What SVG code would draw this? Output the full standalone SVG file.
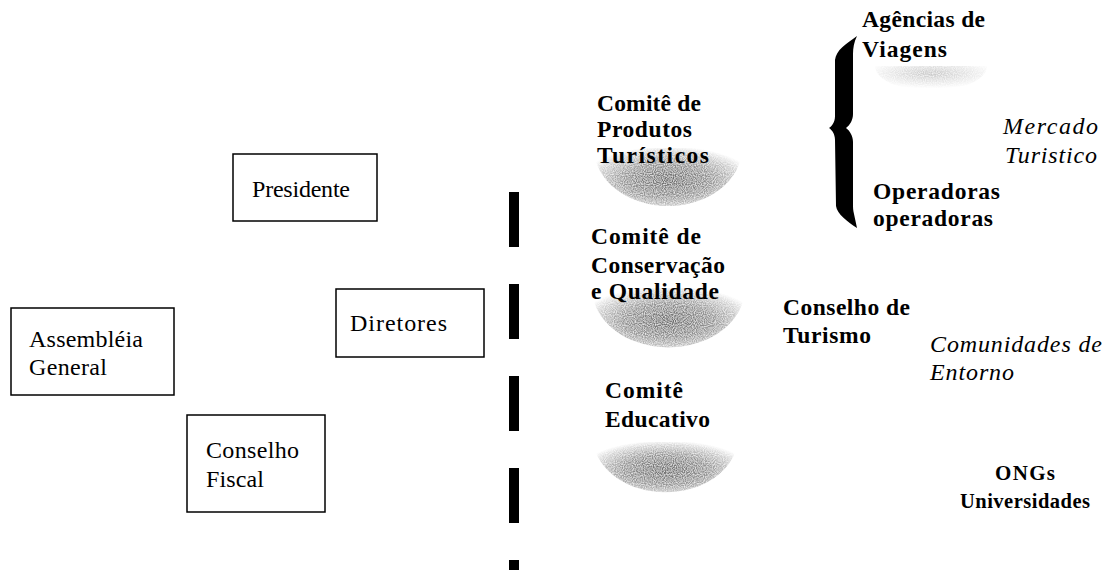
<svg xmlns="http://www.w3.org/2000/svg" width="1110" height="570" viewBox="0 0 1110 570">
<style>
.box{fill:#fff;stroke:#000;stroke-width:1.5}
.r{font-family:"Liberation Serif",serif;font-size:24px;fill:#000}
.b{font-family:"Liberation Serif",serif;font-size:23.5px;font-weight:bold;fill:#000}
.i{font-family:"Liberation Serif",serif;font-size:24px;font-style:italic;fill:#000}
.dash{stroke:#000;stroke-width:10;stroke-dasharray:55 37}
</style>
<defs>
<radialGradient id="bowl" cx="0.5" cy="0.55" r="0.58">
<stop offset="0" stop-color="#6a6a6a"/>
<stop offset="0.5" stop-color="#949494"/>
<stop offset="0.85" stop-color="#d8d8d8"/>
<stop offset="1" stop-color="#ffffff"/>
</radialGradient>
<radialGradient id="bowlFaint" cx="0.5" cy="0.3" r="0.6">
<stop offset="0" stop-color="#c8c8c8"/>
<stop offset="1" stop-color="#ffffff"/>
</radialGradient>
<filter id="grain" x="0" y="0" width="1" height="1">
<feTurbulence type="fractalNoise" baseFrequency="0.9" numOctaves="1" seed="3" result="n"/>
<feColorMatrix in="n" type="matrix" values="0 0 0 0 1  0 0 0 0 1  0 0 0 0 1  0 0 0 -1.6 1.05" result="w"/>
<feComposite in="w" in2="SourceGraphic" operator="atop"/>
</filter>
</defs>
<rect width="1110" height="570" fill="#fff"/>

<g id="connectors">
<line class="dash" x1="514" y1="192" x2="514" y2="570"/>
<path id="brace" d="M857,36 C846,44 836,50 835,60 L835,116 C835,122 832,126 829,128 C832,130 835,134 835,140 L836,206 C837,214 848,222 857,228 L854,214 C853,210 853,208 853,204 L853,142 C853,136 850,131 846,128 C850,125 853,120 853,114 L853,54 C853,48 854,42 857,36 Z" fill="#000"/>
</g>

<g id="presidente">
<rect class="box" x="233" y="154" width="144" height="67"/>
<text class="r" x="252" y="197" textLength="98">Presidente</text>
</g>
<g id="diretores">
<rect class="box" x="336" y="289" width="148" height="68"/>
<text class="r" x="350" y="331" textLength="97">Diretores</text>
</g>
<g id="assembleia">
<rect class="box" x="11" y="308" width="163" height="87"/>
<text class="r" x="29" y="347" textLength="114">Assembléia</text>
<text class="r" x="29" y="375" textLength="78">General</text>
</g>
<g id="conselho-fiscal">
<rect class="box" x="187" y="415" width="138" height="97"/>
<text class="r" x="206" y="458" textLength="93">Conselho</text>
<text class="r" x="206" y="487" textLength="58">Fiscal</text>
</g>

<g id="comite-produtos">
<path d="M594,148 A74,58 0 0 0 742,148 Z" fill="url(#bowl)" filter="url(#grain)"/>
<text class="b" x="597" y="111" textLength="104">Comitê de</text>
<text class="b" x="597" y="137" textLength="95">Produtos</text>
<text class="b" x="597" y="163" textLength="112">Turísticos</text>
</g>
<g id="comite-conservacao">
<path d="M592,288 A76,59 0 0 0 745,288 Z" fill="url(#bowl)" filter="url(#grain)"/>
<text class="b" x="591" y="244" textLength="110">Comitê de</text>
<text class="b" x="591" y="273" textLength="134">Conservação</text>
<text class="b" x="591" y="299" textLength="128">e Qualidade</text>
</g>
<g id="comite-educativo">
<path d="M593,442 A73,57 0 0 0 738,442 Z" fill="url(#bowl)" filter="url(#grain)"/>
<text class="b" x="605" y="398" textLength="78">Comitê</text>
<text class="b" x="605" y="427" textLength="105">Educativo</text>
</g>

<g id="agencias">
<path d="M875,66 A56,25 0 0 0 987,66 Z" fill="url(#bowlFaint)" filter="url(#grain)"/>
<text class="b" x="862" y="27" textLength="123">Agências de</text>
<text class="b" x="862" y="57" textLength="85">Viagens</text>
</g>
<g id="operadoras">
<text class="b" x="873" y="199" textLength="127">Operadoras</text>
<text class="b" x="873" y="226" textLength="120">operadoras</text>
</g>
<g id="mercado">
<text class="i" x="1003" y="134" textLength="95">Mercado</text>
<text class="i" x="1005" y="163" textLength="92">Turistico</text>
</g>
<g id="conselho-turismo">
<text class="b" x="783" y="315" textLength="127">Conselho de</text>
<text class="b" x="783" y="343" textLength="88">Turismo</text>
</g>
<g id="comunidades">
<text class="i" x="930" y="352" textLength="172">Comunidades de</text>
<text class="i" x="930" y="380" textLength="84">Entorno</text>
</g>
<g id="ongs">
<text class="b" x="995" y="480" style="font-size:21px" textLength="60">ONGs</text>
<text class="b" x="960" y="508" style="font-size:20.5px" textLength="130">Universidades</text>
</g>
</svg>
